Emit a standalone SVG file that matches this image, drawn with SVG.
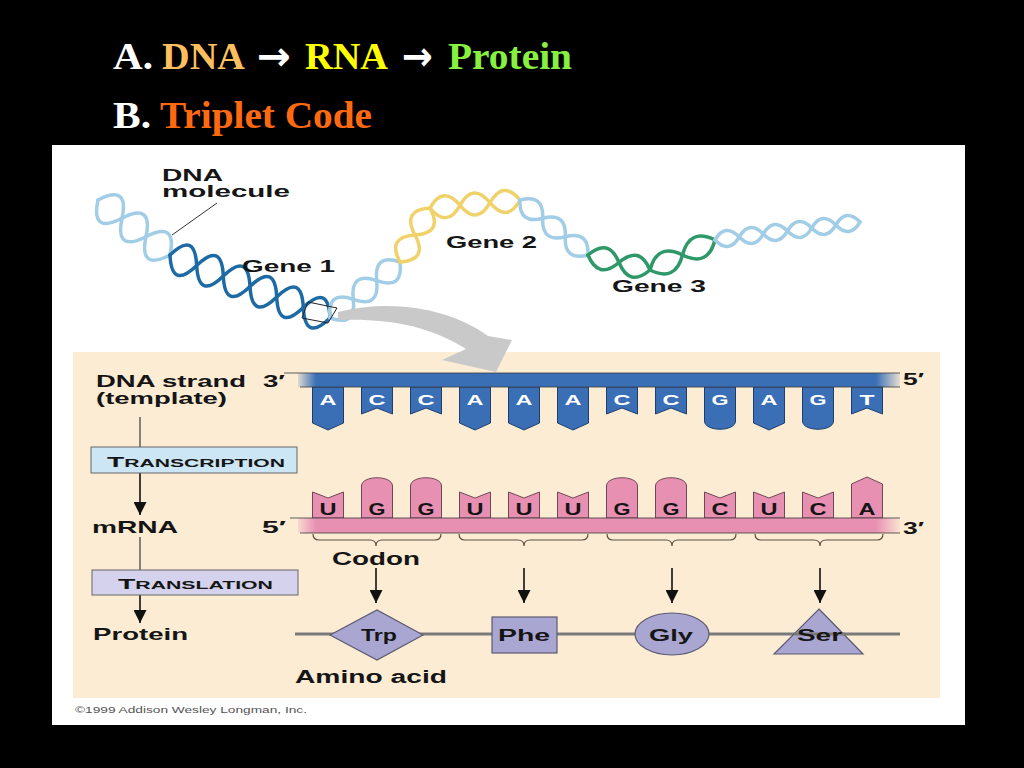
<svg xmlns="http://www.w3.org/2000/svg" width="1024" height="768" viewBox="0 0 1024 768">
<defs>
<style>
.t{font-family:"Liberation Serif","Times New Roman",serif;font-weight:bold;font-size:37px}
.ar{font-family:"DejaVu Sans",sans-serif;font-weight:bold;font-size:40px;fill:#fff}
.l{font-family:"Liberation Sans",Arial,sans-serif;font-weight:bold;fill:#151515}
.dl{font-family:"Liberation Sans",Arial,sans-serif;font-weight:bold;font-size:15px;fill:#ffffff}
.rl{font-family:"Liberation Sans",Arial,sans-serif;font-weight:bold;font-size:16px;fill:#151515}
.dna{fill:#3a6fb6;stroke:#1d3f70;stroke-width:1}
.rna{fill:#e890b2;stroke:#6e4858;stroke-width:1}
.aa{fill:#a9a6d2;stroke:#5c5a72;stroke-width:1.2}
.brace{fill:none;stroke:#5a5040;stroke-width:1.2}
.arr{stroke:#111;stroke-width:1.6;fill:none;marker-end:url(#ah)}
.ln{stroke:#555;stroke-width:1.4;fill:none}
.s{fill:none;stroke-width:3.5;stroke-linecap:round}
.lb{stroke:#a2cde6}
.db{stroke:#1d6aa5}
.yl{stroke:#f0d26a}
.gr{stroke:#2e9868}
.edge{stroke:#3a3a3a;stroke-width:0.8}
</style>
<marker id="ah" markerUnits="userSpaceOnUse" markerWidth="14" markerHeight="13" refX="13" refY="6.5" orient="auto">
<path d="M0,0 L13,6.5 L0,13 Z" fill="#111"/>
</marker>
<linearGradient id="gb" gradientUnits="userSpaceOnUse" x1="298" y1="0" x2="900" y2="0">
<stop offset="0" stop-color="#3a6fb6" stop-opacity="0.15"/>
<stop offset="0.03" stop-color="#3a6fb6"/>
<stop offset="0.96" stop-color="#3a6fb6"/>
<stop offset="1" stop-color="#3a6fb6" stop-opacity="0.1"/>
</linearGradient>
<linearGradient id="gp" gradientUnits="userSpaceOnUse" x1="298" y1="0" x2="900" y2="0">
<stop offset="0" stop-color="#e890b2" stop-opacity="0.2"/>
<stop offset="0.03" stop-color="#e890b2"/>
<stop offset="0.96" stop-color="#e890b2"/>
<stop offset="1" stop-color="#e890b2" stop-opacity="0.1"/>
</linearGradient>
</defs>
<rect x="0" y="0" width="1024" height="768" fill="#000"/>
<g id="title">
<text class="t" x="113" y="69" fill="#fff" textLength="40" lengthAdjust="spacingAndGlyphs">A.</text>
<text class="t" x="162" y="69" fill="#ffbf5f" textLength="83" lengthAdjust="spacingAndGlyphs">DNA</text>
<text class="ar" x="257" y="70" textLength="34" lengthAdjust="spacingAndGlyphs">→</text>
<text class="t" x="305" y="69" fill="#ffff00" textLength="83" lengthAdjust="spacingAndGlyphs">RNA</text>
<text class="ar" x="402" y="70" textLength="31" lengthAdjust="spacingAndGlyphs">→</text>
<text class="t" x="448" y="69" fill="#88f040" textLength="124" lengthAdjust="spacingAndGlyphs">Protein</text>
<text class="t" x="113" y="128" fill="#fff" textLength="38" lengthAdjust="spacingAndGlyphs">B.</text>
<text class="t" x="160" y="128" fill="#ff6a10" textLength="212" lengthAdjust="spacingAndGlyphs">Triplet Code</text>
</g>
<rect id="panel" x="52" y="145" width="913" height="580" fill="#fff"/>
<g id="dna-molecule">
<path class="s lb" d="M98,200 Q90.6,234.6 122,218.3 T146,236.7 T170,255"/>
<path class="s lb" d="M98,200 Q129.4,183.8 122,218.3 T146,236.7 T170,255"/>
<path class="s db" d="M170,255 Q195,230.5 196.7,265.5 T223.3,276 T250,286.5 T276.7,297 T303.3,307.5 T330,318"/>
<path class="s db" d="M170,255 Q171.6,290 196.7,265.5 T223.3,276 T250,286.5 T276.7,297 T303.3,307.5 T330,318"/>
<path class="s lb" d="M330,318 Q326.7,289.9 353.3,299.3 T376.7,280.7 T400,262"/>
<path class="s lb" d="M330,318 Q356.7,327.4 353.3,299.3 T376.7,280.7 T400,262"/>
<path class="s yl" d="M400,262 Q428.5,260.2 415,235 T430,208"/>
<path class="s yl" d="M400,262 Q386.5,236.8 415,235 T430,208"/>
<path class="s yl" d="M430,208 Q447,228.6 460,205.3 T490,202.7 T520,200"/>
<path class="s yl" d="M430,208 Q443,184.8 460,205.3 T490,202.7 T520,200"/>
<path class="s lb" d="M520,200 Q543.9,193.6 542.7,218.3 T565.3,236.7 T588,255"/>
<path class="s lb" d="M520,200 Q518.8,224.7 542.7,218.3 T565.3,236.7 T588,255"/>
<path class="s gr" d="M588,255 Q598.3,280.1 619,262.5 T650,270"/>
<path class="s gr" d="M588,255 Q608.7,237.4 619,262.5 T650,270"/>
<path class="s gr" d="M650,270 Q675.5,282.5 682.5,255 T715,240"/>
<path class="s gr" d="M650,270 Q657,242.5 682.5,255 T715,240"/>
<path class="s lb" d="M715,240 Q729,254.4 739.2,237 T763.3,234 T787.5,231 T811.7,228 T835.8,225 T860,222" stroke-width="3"/>
<path class="s lb" d="M715,240 Q725.1,222.6 739.2,237 T763.3,234 T787.5,231 T811.7,228 T835.8,225 T860,222" stroke-width="3"/>
<polygon points="308,302 337,308 328,323 302,318" fill="none" stroke="#222" stroke-width="1"/>
<line x1="172" y1="235" x2="217" y2="203" stroke="#333" stroke-width="1"/>
<text class="l" x="162" y="181" font-size="16" textLength="61" lengthAdjust="spacingAndGlyphs">DNA</text>
<text class="l" x="162" y="197" font-size="16" textLength="128" lengthAdjust="spacingAndGlyphs">molecule</text>
<text class="l" x="242" y="272" font-size="16" textLength="93" lengthAdjust="spacingAndGlyphs">Gene 1</text>
<text class="l" x="446" y="248" font-size="16" textLength="91" lengthAdjust="spacingAndGlyphs">Gene 2</text>
<text class="l" x="612" y="292" font-size="16" textLength="94" lengthAdjust="spacingAndGlyphs">Gene 3</text>
</g>
<rect id="inset" x="73" y="352" width="867" height="346" fill="#fcecd4"/>
<path id="zoom-arrow" d="M338,312 C395,298 452,310 488,336 L512,340 L496,372 L442,360 L466,349 C430,326 388,318 338,320 Z" fill="#c9c9c9"/>
<g id="dna-strand">
<path class="dna" d="M312.5,387V423L328,430L343.5,423V387Z"/>
<path class="dna" d="M361.5,387V414L377,408L392.5,414V387Z"/>
<path class="dna" d="M410.5,387V414L426,408L441.5,414V387Z"/>
<path class="dna" d="M459.5,387V423L475,430L490.5,423V387Z"/>
<path class="dna" d="M508.5,387V423L524,430L539.5,423V387Z"/>
<path class="dna" d="M557.5,387V423L573,430L588.5,423V387Z"/>
<path class="dna" d="M606.5,387V414L622,408L637.5,414V387Z"/>
<path class="dna" d="M655.5,387V414L671,408L686.5,414V387Z"/>
<path class="dna" d="M704.5,387V421C704.5,432 735.5,432 735.5,421V387Z"/>
<path class="dna" d="M753.5,387V423L769,430L784.5,423V387Z"/>
<path class="dna" d="M802.5,387V421C802.5,432 833.5,432 833.5,421V387Z"/>
<path class="dna" d="M851.5,387V414L867,408L882.5,414V387Z"/>
<rect x="298" y="373" width="602" height="14" fill="url(#gb)"/>
<line class="edge" x1="284" y1="373" x2="900" y2="373"/>
<line class="edge" x1="300" y1="387" x2="900" y2="387"/>
<text class="dl" x="319.5" y="405" textLength="17" lengthAdjust="spacingAndGlyphs">A</text>
<text class="dl" x="368.5" y="405" textLength="17" lengthAdjust="spacingAndGlyphs">C</text>
<text class="dl" x="417.5" y="405" textLength="17" lengthAdjust="spacingAndGlyphs">C</text>
<text class="dl" x="466.5" y="405" textLength="17" lengthAdjust="spacingAndGlyphs">A</text>
<text class="dl" x="515.5" y="405" textLength="17" lengthAdjust="spacingAndGlyphs">A</text>
<text class="dl" x="564.5" y="405" textLength="17" lengthAdjust="spacingAndGlyphs">A</text>
<text class="dl" x="613.5" y="405" textLength="17" lengthAdjust="spacingAndGlyphs">C</text>
<text class="dl" x="662.5" y="405" textLength="17" lengthAdjust="spacingAndGlyphs">C</text>
<text class="dl" x="711.5" y="405" textLength="17" lengthAdjust="spacingAndGlyphs">G</text>
<text class="dl" x="760.5" y="405" textLength="17" lengthAdjust="spacingAndGlyphs">A</text>
<text class="dl" x="809.5" y="405" textLength="17" lengthAdjust="spacingAndGlyphs">G</text>
<text class="dl" x="859.5" y="405" textLength="15" lengthAdjust="spacingAndGlyphs">T</text>
<text class="l" x="263" y="387" font-size="17" textLength="22" lengthAdjust="spacingAndGlyphs">3′</text>
<text class="l" x="903" y="385" font-size="17" textLength="21" lengthAdjust="spacingAndGlyphs">5′</text>
</g>
<g id="mrna-strand">
<path class="rna" d="M312.5,518V492L328,498L343.5,492V518Z"/>
<path class="rna" d="M361.5,518V486C361.5,475 392.5,475 392.5,486V518Z"/>
<path class="rna" d="M410.5,518V486C410.5,475 441.5,475 441.5,486V518Z"/>
<path class="rna" d="M459.5,518V492L475,498L490.5,492V518Z"/>
<path class="rna" d="M508.5,518V492L524,498L539.5,492V518Z"/>
<path class="rna" d="M557.5,518V492L573,498L588.5,492V518Z"/>
<path class="rna" d="M606.5,518V486C606.5,475 637.5,475 637.5,486V518Z"/>
<path class="rna" d="M655.5,518V486C655.5,475 686.5,475 686.5,486V518Z"/>
<path class="rna" d="M704.5,518V492L720,498L735.5,492V518Z"/>
<path class="rna" d="M753.5,518V492L769,498L784.5,492V518Z"/>
<path class="rna" d="M802.5,518V492L818,498L833.5,492V518Z"/>
<path class="rna" d="M851.5,518V484L867,477L882.5,484V518Z"/>
<rect x="298" y="518" width="602" height="15" fill="url(#gp)"/>
<line class="edge" x1="290" y1="518" x2="900" y2="518"/>
<line class="edge" x1="300" y1="533" x2="900" y2="533"/>
<text class="rl" x="319.5" y="515" textLength="17" lengthAdjust="spacingAndGlyphs">U</text>
<text class="rl" x="368.5" y="515" textLength="17" lengthAdjust="spacingAndGlyphs">G</text>
<text class="rl" x="417.5" y="515" textLength="17" lengthAdjust="spacingAndGlyphs">G</text>
<text class="rl" x="466.5" y="515" textLength="17" lengthAdjust="spacingAndGlyphs">U</text>
<text class="rl" x="515.5" y="515" textLength="17" lengthAdjust="spacingAndGlyphs">U</text>
<text class="rl" x="564.5" y="515" textLength="17" lengthAdjust="spacingAndGlyphs">U</text>
<text class="rl" x="613.5" y="515" textLength="17" lengthAdjust="spacingAndGlyphs">G</text>
<text class="rl" x="662.5" y="515" textLength="17" lengthAdjust="spacingAndGlyphs">G</text>
<text class="rl" x="711.5" y="515" textLength="17" lengthAdjust="spacingAndGlyphs">C</text>
<text class="rl" x="760.5" y="515" textLength="17" lengthAdjust="spacingAndGlyphs">U</text>
<text class="rl" x="809.5" y="515" textLength="17" lengthAdjust="spacingAndGlyphs">C</text>
<text class="rl" x="858.5" y="515" textLength="17" lengthAdjust="spacingAndGlyphs">A</text>
<text class="l" x="262" y="533" font-size="17" textLength="24" lengthAdjust="spacingAndGlyphs">5′</text>
<text class="l" x="903" y="534" font-size="17" textLength="21" lengthAdjust="spacingAndGlyphs">3′</text>
</g>
<g id="codons">
<path class="brace" d="M313,534 Q313,540 319,540 L370,540 Q376,540 376,546 Q376,540 382,540 L435,540 Q441,540 441,534"/>
<path class="brace" d="M459,534 Q459,540 465,540 L518,540 Q524,540 524,546 Q524,540 530,540 L582,540 Q588,540 588,534"/>
<path class="brace" d="M607,534 Q607,540 613,540 L666,540 Q672,540 672,546 Q672,540 678,540 L730,540 Q736,540 736,534"/>
<path class="brace" d="M755,534 Q755,540 761,540 L814,540 Q820,540 820,546 Q820,540 826,540 L877,540 Q883,540 883,534"/>
<text class="l" x="332" y="565" font-size="18" textLength="88" lengthAdjust="spacingAndGlyphs">Codon</text>
</g>
<g id="connectors">
<line class="arr" x1="376" y1="568" x2="376" y2="603"/>
<line class="arr" x1="524" y1="568" x2="524" y2="603"/>
<line class="arr" x1="672" y1="568" x2="672" y2="603"/>
<line class="arr" x1="820" y1="568" x2="820" y2="603"/>
<line class="ln" x1="140" y1="417" x2="140" y2="447"/>
<line class="arr" x1="140" y1="473" x2="140" y2="515"/>
<line class="ln" x1="140" y1="537" x2="140" y2="570"/>
<line class="arr" x1="140" y1="595" x2="140" y2="623"/>
<line x1="295" y1="634" x2="900" y2="634" stroke="#7a7a7a" stroke-width="3"/>
</g>
<g id="labels">
<text class="l" x="96" y="387" font-size="16.5" textLength="150" lengthAdjust="spacingAndGlyphs">DNA strand</text>
<text class="l" x="96" y="404" font-size="16" textLength="131" lengthAdjust="spacingAndGlyphs">(template)</text>
<text class="l" x="92" y="533" font-size="17" textLength="86" lengthAdjust="spacingAndGlyphs">mRNA</text>
<text class="l" x="93" y="640" font-size="17" textLength="95" lengthAdjust="spacingAndGlyphs">Protein</text>
</g>
<g id="transcription">
<rect x="91" y="447" width="206" height="26" fill="#cde6f5" stroke="#666" stroke-width="1"/>
<text class="l" x="107" y="467" textLength="178" lengthAdjust="spacingAndGlyphs"><tspan font-size="14">T</tspan><tspan font-size="10.5">RANSCRIPTION</tspan></text>
</g>
<g id="translation">
<rect x="92" y="570" width="206" height="25" fill="#d4d2ec" stroke="#666" stroke-width="1"/>
<text class="l" x="118" y="589" textLength="155" lengthAdjust="spacingAndGlyphs"><tspan font-size="14">T</tspan><tspan font-size="10.5">RANSLATION</tspan></text>
</g>
<g id="trp">
<polygon class="aa" points="330,635 377,610 423,635 377,660"/>
<text class="l" x="361" y="641" font-size="16" textLength="36" lengthAdjust="spacingAndGlyphs">Trp</text>
</g>
<g id="phe">
<rect class="aa" x="492" y="617" width="65" height="36"/>
<text class="l" x="498" y="641" font-size="16" textLength="52" lengthAdjust="spacingAndGlyphs">Phe</text>
</g>
<g id="gly">
<ellipse class="aa" cx="672" cy="634" rx="37" ry="21"/>
<text class="l" x="649" y="641" font-size="16" textLength="44" lengthAdjust="spacingAndGlyphs">Gly</text>
</g>
<g id="ser">
<polygon class="aa" points="819,609 863,654 774,654"/>
<line x1="794" y1="634" x2="845" y2="634" stroke="#7a7a7a" stroke-width="3"/>
<text class="l" x="797" y="641" font-size="16" textLength="45" lengthAdjust="spacingAndGlyphs">Ser</text>
</g>
<text class="l" x="295" y="683" font-size="18" textLength="152" lengthAdjust="spacingAndGlyphs">Amino acid</text>
<text x="75" y="713" font-family="Liberation Sans, Arial, sans-serif" font-size="9" fill="#555" textLength="232" lengthAdjust="spacingAndGlyphs">©1999 Addison Wesley Longman, Inc.</text>
</svg>
